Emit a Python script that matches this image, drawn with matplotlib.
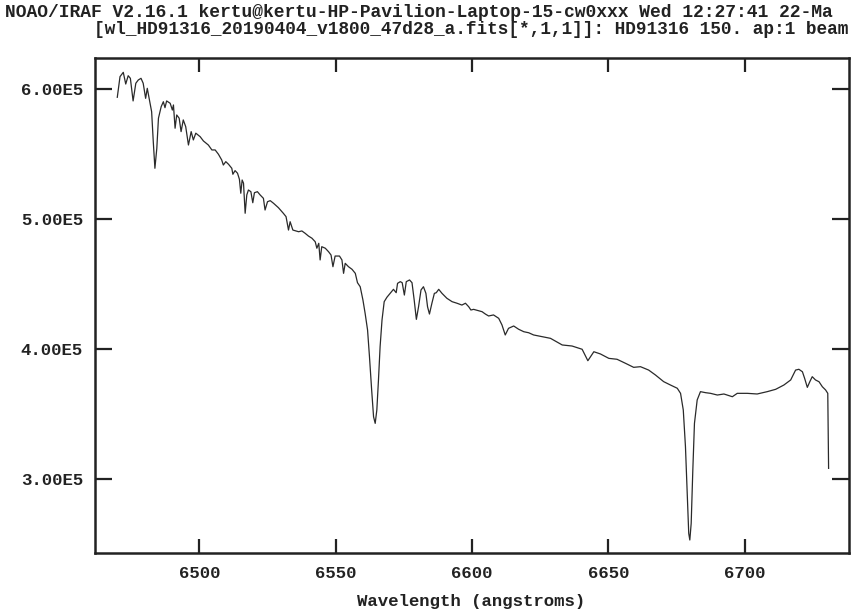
import matplotlib
matplotlib.use("Agg")
from matplotlib import pyplot as plt

# spectrum (wavelength in angstroms, flux)
wave = [6469.9, 6470.9, 6472.1, 6473.0, 6473.9, 6474.7, 6475.7, 6476.7, 6477.6, 6478.6,
        6479.4, 6480.3, 6480.9, 6481.6, 6482.5, 6483.1, 6483.7, 6484.4, 6485.0, 6486.0,
        6486.8, 6487.4, 6488.0, 6489.3, 6490.1, 6490.5, 6491.1, 6491.7, 6492.6, 6493.3,
        6494.1, 6495.0, 6496.0, 6497.0, 6497.8, 6498.7, 6500.3, 6501.5, 6503.3, 6504.6,
        6505.8, 6507.0, 6508.2, 6508.8, 6509.7, 6510.7, 6511.9, 6512.3, 6513.1, 6514.0,
        6514.7, 6515.2, 6515.7, 6516.2, 6516.8, 6517.4, 6518.0, 6518.9, 6519.6, 6520.2,
        6521.3, 6522.3, 6523.5, 6524.1, 6525.0, 6526.0, 6527.2, 6529.0, 6530.8, 6531.8,
        6532.7, 6533.3, 6534.3, 6535.1, 6536.4, 6537.6, 6538.8, 6540.0, 6541.3, 6542.5,
        6543.1, 6543.8, 6544.3, 6544.9, 6546.2, 6547.4, 6548.3, 6549.0, 6549.8, 6551.4,
        6552.3, 6552.9, 6553.5, 6554.7, 6556.0, 6557.2, 6558.0, 6559.0, 6560.0, 6560.8,
        6561.7, 6562.4, 6563.2, 6563.9, 6564.5, 6565.1, 6565.7, 6566.3, 6567.0, 6567.8,
        6568.8, 6570.0, 6571.2, 6572.2, 6572.7, 6573.7, 6574.4, 6575.2, 6575.9, 6577.1,
        6578.0, 6578.8, 6579.6, 6580.4, 6581.3, 6582.2, 6583.1, 6583.7, 6584.4, 6585.3,
        6586.2, 6586.9, 6587.8, 6589.0, 6590.8, 6592.7, 6594.5, 6596.3, 6597.6, 6598.8,
        6599.6, 6600.6, 6602.4, 6603.7, 6604.9, 6606.1, 6607.9, 6609.8, 6611.0, 6612.2,
        6613.4, 6615.3, 6617.1, 6619.0, 6620.8, 6622.6, 6628.8, 6633.1, 6636.7, 6640.4,
        6642.5, 6644.7, 6647.1, 6650.2, 6653.2, 6656.3, 6659.3, 6661.8, 6664.8, 6667.3,
        6670.3, 6672.8, 6675.3, 6676.5, 6677.5, 6678.3, 6678.9, 6679.5, 6679.9, 6680.4,
        6681.0, 6681.6, 6682.6, 6683.8, 6685.7, 6687.5, 6690.0, 6692.4, 6695.5, 6697.3,
        6701.0, 6704.6, 6708.3, 6711.4, 6714.4, 6716.9, 6718.7, 6719.9, 6721.2, 6722.0,
        6723.0, 6723.9, 6724.8, 6726.0, 6727.3, 6728.5, 6729.7, 6730.5, 6730.8]
flux_k = [593.6, 609.5, 612.8, 603.8, 610.2, 608.2, 590.8, 604.4, 606.9, 608.2,
          604.4, 592.8, 600.5, 592.8, 582.5, 559.5, 539.0, 554.4, 577.5, 586.4,
          590.2, 585.6, 590.8, 589.0, 583.8, 587.7, 569.8, 580.0, 577.5, 567.2,
          576.2, 571.0, 556.9, 567.2, 560.8, 566.0, 563.3, 560.0, 556.9, 553.1,
          553.1, 549.8, 545.4, 541.5, 544.1, 542.1, 539.0, 534.4, 537.2, 535.2,
          530.5, 519.8, 530.0, 527.5, 504.4, 518.5, 522.3, 521.0, 512.5, 520.2,
          521.0, 518.5, 515.9, 506.9, 513.3, 514.1, 512.1, 508.7, 504.4, 501.8,
          491.5, 497.9, 491.5, 491.0, 490.2, 490.8, 489.0, 486.9, 485.2, 482.5,
          477.5, 481.3, 468.5, 478.7, 477.5, 474.8, 472.3, 463.3, 471.5, 471.5,
          468.5, 458.2, 465.9, 463.3, 461.3, 458.2, 451.0, 447.9, 437.7, 427.5,
          414.6, 394.1, 368.5, 347.9, 342.8, 353.1, 376.2, 401.8, 422.3, 436.4,
          439.8, 442.8, 445.9, 443.3, 450.5, 451.8, 451.0, 441.5, 451.8, 453.1,
          451.0, 437.7, 422.8, 432.5, 445.4, 447.9, 442.8, 432.5, 426.9, 435.2,
          442.8, 443.3, 445.9, 442.8, 439.0, 436.4, 435.2, 433.8, 435.2, 432.5,
          430.0, 430.5, 429.5, 428.7, 426.9, 425.4, 426.2, 423.6, 418.5, 410.8,
          415.9, 417.7, 415.2, 413.3, 412.5, 410.8, 408.2, 403.1, 402.3, 399.8,
          391.0, 397.9, 396.2, 392.8, 392.1, 389.0, 385.9, 386.4, 383.8, 380.0,
          374.9, 372.3, 369.8, 365.9, 353.1, 324.9, 291.5, 258.2, 253.1, 265.9,
          306.9, 342.8, 360.8, 367.2, 366.4, 365.9, 364.6, 365.4, 363.3, 365.9,
          365.9, 365.4, 367.2, 369.0, 372.3, 376.2, 383.8, 384.4, 382.5, 377.5,
          370.5, 374.8, 378.7, 376.2, 374.8, 371.0, 368.5, 365.9, 308.2]
flux = [v * 1000 for v in flux_k]

x_ticks = [6500, 6550, 6600, 6650, 6700]
y_ticks = [3.0e5, 4.0e5, 5.0e5, 6.0e5]
y_ticklabels = ['3.00E5', '4.00E5', '5.00E5', '6.00E5']

title1 = 'NOAO/IRAF V2.16.1 kertu@kertu-HP-Pavilion-Laptop-15-cw0xxx Wed 12:27:41 22-Ma'
title2 = '[wl_HD91316_20190404_v1800_47d28_a.fits[*,1,1]]: HD91316 150. ap:1 beam'

plt.rcParams['font.family'] = ['Liberation Mono', 'DejaVu Sans Mono']
plt.rcParams['font.weight'] = 'bold'

fig = plt.figure(figsize=(8.64, 6.11), dpi=100)
ax = fig.add_axes([0.1105, 0.0944, 0.8725, 0.8102])

ax.plot(wave, flux, '-', color='#2a2a2a', linewidth=0.9)

ax.set_xlim(6461.9, 6738.4)
ax.set_ylim(2.4285e5, 6.236e5)
ax.set_xticks(x_ticks)
ax.set_yticks(y_ticks)
ax.set_yticklabels(y_ticklabels)
ax.tick_params(axis='both', direction='in', top=True, right=True, width=1.6,
               labelsize=12.5, colors='#222222')
ax.tick_params(axis='x', length=10, pad=9)
ax.tick_params(axis='y', length=12, pad=9)
for s in ax.spines.values():
    s.set_linewidth(1.8)
    s.set_color('#222222')

fig.text(0.006, 0.979, title1, ha='left', va='center', fontsize=13, color='#222222')
fig.text(0.545, 0.951, title2, ha='center', va='center', fontsize=12.8, color='#222222')
fig.text(0.545, 0.015, 'Wavelength (angstroms)', ha='center', va='center',
         fontsize=12.5, color='#222222')

fig.savefig('out.png', dpi=100)
